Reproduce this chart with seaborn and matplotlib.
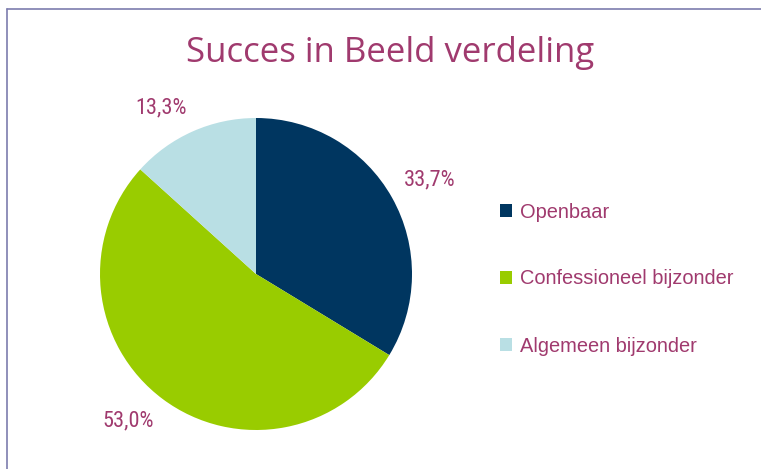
import matplotlib
matplotlib.use("Agg")
import matplotlib.pyplot as plt
from matplotlib.lines import Line2D
from matplotlib.patches import Patch
import seaborn as sns

# --- Data ---
categories = ["Openbaar", "Confessioneel bijzonder", "Algemeen bijzonder"]
shares = [33.7, 53.0, 13.3]
colors = ["#003660", "#99CC00", "#B9DFE4"]
title = "Succes in Beeld verdeling"

TEXT_COLOR = "#A03A6E"
W, H = 761, 469

sns.set_theme(style="white")
plt.rcParams["font.family"] = ["Liberation Sans", "DejaVu Sans"]

fig = plt.figure(figsize=(W / 100, H / 100), dpi=100)
fig.patch.set_facecolor("white")

# pie axes placed so the pie centre/radius match the reference
cx, cy, r = 256, 274, 156
ax = fig.add_axes([(cx - r) / W, (H - cy - r) / H, 2 * r / W, 2 * r / H])
pct_labels = [f"{v:.1f}%".replace(".", ",") for v in shares]
wedges, texts = ax.pie(
    shares,
    labels=pct_labels,
    colors=colors,
    startangle=90,
    counterclock=False,
    labeldistance=1.09,
    wedgeprops=dict(linewidth=0),
    textprops=dict(color=TEXT_COLOR, fontsize=16,
                   family=["Roboto Condensed", "Liberation Sans", "DejaVu Sans"]),
)
# excel-like placement: labels sit above the point on the upper half, below on the lower half
for t in texts:
    t.set_va("bottom" if t.get_position()[1] > 0 else "top")
ax.set_xlim(-1, 1)
ax.set_ylim(-1, 1)
ax.set_aspect("equal")
ax.axis("off")

fig.text(390 / W, 1 - 62 / H, title, ha="center", va="baseline",
         fontsize=25, color=TEXT_COLOR, family=["Open Sans", "DejaVu Sans"])

handles = [Patch(facecolor=c, edgecolor="none") for c in colors]
leg = fig.legend(handles, categories, loc="center left",
                 bbox_to_anchor=(482 / W, 1 - 279 / H), frameon=False,
                 handlelength=0.6, handleheight=0.6, handletextpad=0.4,
                 labelspacing=2.4, fontsize=14.4)
for t in leg.get_texts():
    t.set_color(TEXT_COLOR)

# frame lines (top and left, as in the source screenshot)
border = "#7D7DAE"
fig.add_artist(Line2D([6.5 / W, 6.5 / W], [0, 1 - 9 / H], color=border, lw=1.2))
fig.add_artist(Line2D([6.5 / W, 1], [1 - 9 / H, 1 - 9 / H], color=border, lw=1.2))

fig.savefig("out.png", dpi=100)
